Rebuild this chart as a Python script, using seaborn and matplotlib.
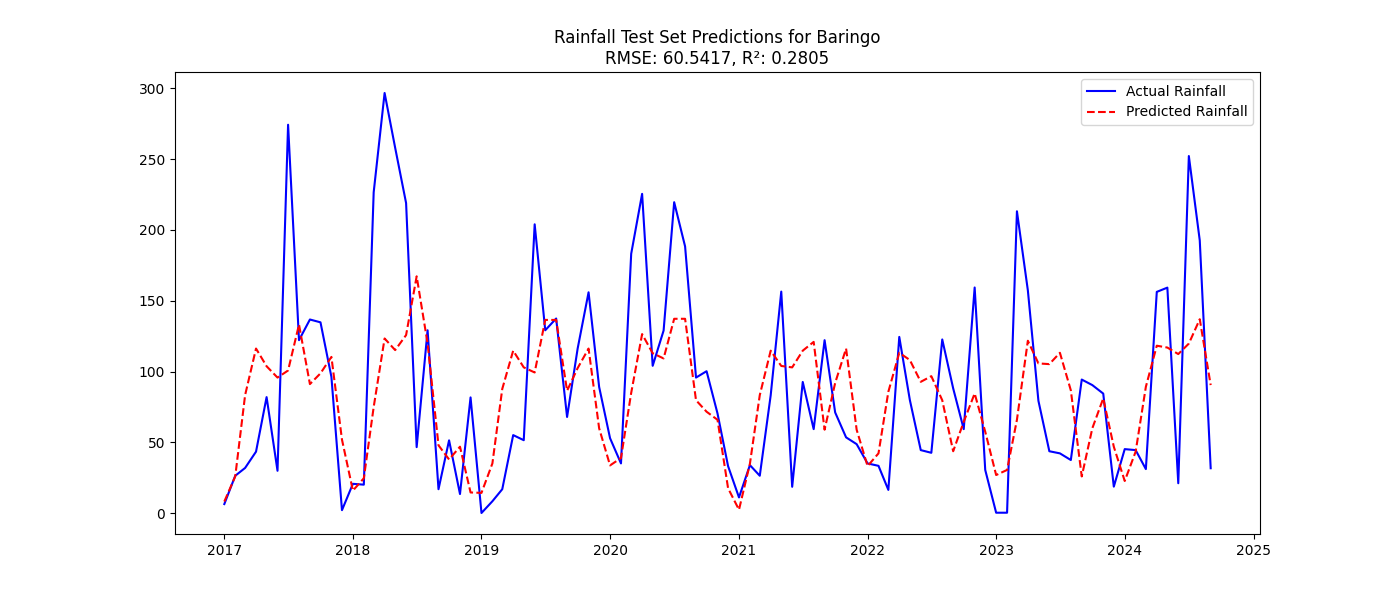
import numpy as np
import pandas as pd
import seaborn as sns
from matplotlib import pyplot as plt

dates = pd.date_range('2017-01-01', '2024-09-01', freq='MS')

actual = [6.5, 26.5, 32, 43.5, 82, 30, 274.3, 122.2, 136.8, 134.8, 96.3, 2.2,
          20.8, 20.2, 226.6, 296.7, 258, 219, 46.7, 129.2, 17, 51.5, 13.6, 81.8,
          0.2, 8.5, 17, 55.2, 51.6, 204, 129.2, 137.5, 68, 116.3, 156, 89.2,
          53, 35.2, 183.2, 225.5, 104.1, 129, 219.6, 188.4, 95.8, 100.3, 70.5, 33.3,
          11.2, 34, 26.5, 83.3, 156.5, 18.7, 92.7, 59.4, 122.2, 71.2, 53.6, 48.8,
          35.2, 33.5, 16.5, 124.5, 80, 44.6, 42.7, 122.7, 88.2, 59.4, 159.4, 30.6,
          0.4, 0.4, 213.2, 157.4, 79.4, 43.8, 42.3, 37.6, 94.4, 90.5, 84.5, 18.8,
          45.3, 44.6, 31.2, 156.3, 159.3, 21.2, 252.2, 192.6, 31.8]

predicted = [8.3, 26, 83.4, 116.3, 103.8, 95.8, 100.8, 133.2, 91.2, 98.8, 110.4, 52,
             16, 24.7, 75, 123.4, 115.2, 125.8, 167.3, 120, 48, 38, 47, 14.7,
             14.4, 35.2, 87.8, 114.8, 103, 99.4, 136.5, 136.5, 86.5, 102.5, 116.3, 60,
             33.8, 39, 85, 126.5, 113, 109.3, 137.3, 137.3, 79.8, 71.7, 66, 17.7,
             2.5, 35, 83.4, 114.8, 104, 103, 114.8, 121, 59, 92, 116.3, 59,
             33.3, 42.3, 85.8, 113.3, 108.2, 92.8, 96.8, 79.8, 43.8, 64.6, 84.6, 57.6,
             27, 30.6, 66, 121.8, 105.8, 105.3, 113.3, 86.8, 26, 60, 81.1, 47,
             22.8, 43.5, 89.3, 118.3, 117, 112.4, 119.8, 137, 90.5]

df = pd.DataFrame({'date': dates, 'actual': np.array(actual), 'predicted': np.array(predicted)})

plt.figure(figsize=(14, 6))
sns.lineplot(data=df, x='date', y='actual', color='blue', label='Actual Rainfall')
sns.lineplot(data=df, x='date', y='predicted', color='red', linestyle='--', label='Predicted Rainfall')
plt.title('Rainfall Test Set Predictions for Baringo\nRMSE: 60.5417, R²: 0.2805')
plt.xlabel('')
plt.ylabel('')
plt.savefig('out.png', dpi=100)
